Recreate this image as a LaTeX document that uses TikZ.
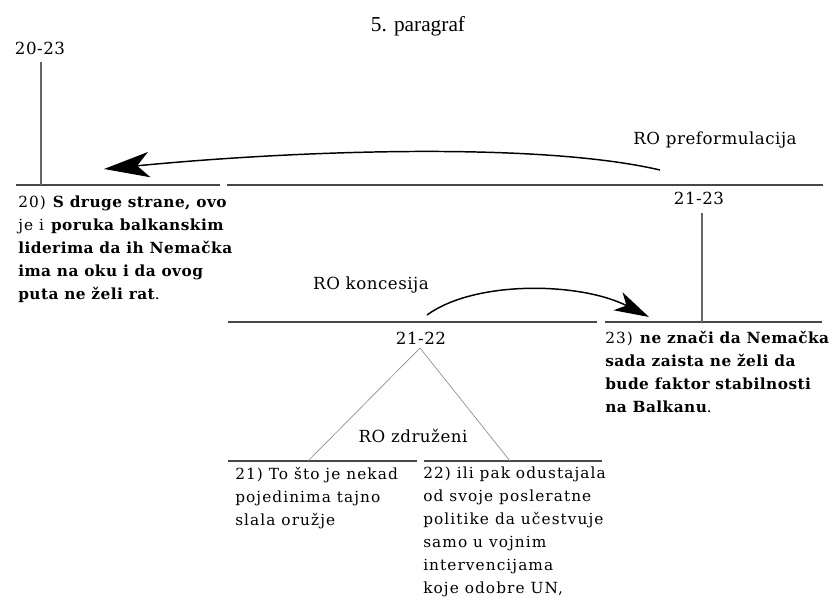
\documentclass[tikz,border=0pt]{standalone}
\usepackage{fontspec}
\setmainfont{DejaVu Serif}
\newfontfamily\timesf{Liberation Serif}
\newfontfamily\bodyf{DejaVu Serif}[LetterSpace=7, BoldFeatures={LetterSpace=3}]
\usetikzlibrary{arrows.meta}
\begin{document}
\begin{tikzpicture}[x=0.75pt,y=-0.75pt,
  hline/.style={draw=black!72, line width=1.1pt},
  vline/.style={draw=black!60, line width=0.8pt},
  tline/.style={draw=black!45, line width=0.5pt},
  txt/.style={anchor=north west, inner sep=0pt, align=left, font=\bodyf\fontsize{11.5}{17.25}\selectfont},
  lbl/.style={inner sep=0pt, font=\fontsize{12.5}{14}\selectfont\addfontfeatures{LetterSpace=3}},
  relbig/.style={draw=black, line width=1.1pt, -{Stealth[length=34pt,width=19pt,inset=9pt]}},
  relsmall/.style={draw=black, line width=1.1pt, -{Stealth[length=26pt,width=15pt,inset=7pt]}}
]
\useasboundingbox (0,0) rectangle (838,614);

% title
\node[inner sep=0pt, font=\timesf\fontsize{16}{19}\selectfont] (title) at (418,26) {5. paragraf};

% span labels
\node[lbl] (l2023) at (40,48) {20-23};
\node[lbl] (l2123) at (699,198) {21-23};
\node[lbl] (l2122) at (421,338) {21-22};

% relation labels
\node[lbl] (rpref) at (715,140) {RO preformulacija};
\node[lbl] (rkonc) at (371,285) {RO koncesija};
\node[lbl] (rzdr) at (413,436) {RO združeni};

% text segments
\node[txt] (t20) at (18,196) {20) \textbf{S druge strane, ovo}\\je i \textbf{poruka balkanskim}\\\textbf{liderima da ih Nemačka}\\\textbf{ima na oku i da ovog}\\\textbf{puta ne želi rat}.};
\node[txt] (t23) at (605,331) {23) \textbf{ne znači da Nemačka}\\\textbf{sada zaista ne želi da}\\\textbf{bude faktor stabilnosti}\\\textbf{na Balkanu}.};
\node[txt] (t21) at (235,467) {21) To što je nekad\\pojedinima tajno\\slala oružje};
\node[txt] (t22) at (423,467) {22) ili pak odustajala\\od svoje posleratne\\politike da učestvuje\\samo u vojnim\\intervencijama\\koje odobre UN,};

% horizontal span lines
\coordinate (h1a) at (16,185);  \coordinate (h1b) at (220,185);
\coordinate (h2a) at (227,185); \coordinate (h2b) at (823,185);
\coordinate (h3a) at (228,322); \coordinate (h3b) at (597,322);
\coordinate (h4a) at (605,322); \coordinate (h4b) at (822,322);
\coordinate (h5a) at (228,461); \coordinate (h5b) at (417,461);
\coordinate (h6a) at (424,461); \coordinate (h6b) at (602,461);
\draw[hline] (h1a) -- (h1b);
\draw[hline] (h2a) -- (h2b);
\draw[hline] (h3a) -- (h3b);
\draw[hline] (h4a) -- (h4b);
\draw[hline] (h5a) -- (h5b);
\draw[hline] (h6a) -- (h6b);

% vertical connectors
\coordinate (v1t) at (41,62);   \coordinate (v1b) at (41,185);
\coordinate (v2t) at (702,213); \coordinate (v2b) at (702,322);
\draw[vline] (v1t) -- (v1b);
\draw[vline] (v2t) -- (v2b);

% multinuclear triangle
\coordinate (apex) at (420,348);
\coordinate (footl) at (308,461);
\coordinate (footr) at (510,461);
\draw[tline] (footl) -- (apex) -- (footr);

% relation arrows
\coordinate (a1s) at (660,170); \coordinate (a1e) at (104,169);
\draw[relbig] (a1s) .. controls (540,142) and (300,150) .. (a1e);
\coordinate (a2s) at (427,315); \coordinate (a2e) at (649,317);
\draw[relsmall] (a2s) .. controls (475,280) and (580,282) .. (a2e);
\end{tikzpicture}
\end{document}
